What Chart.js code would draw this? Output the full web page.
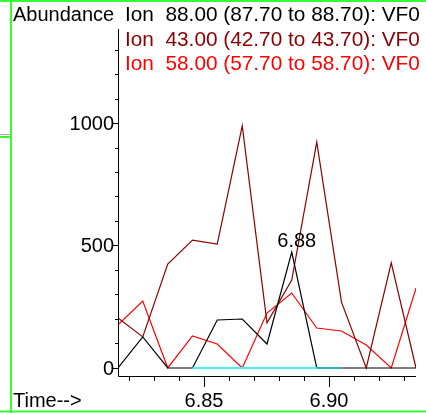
<!DOCTYPE html>
<html>
<head>
<meta charset="utf-8">
<script src="https://cdn.jsdelivr.net/npm/chart.js@4"></script>
<style>
html,body{margin:0;padding:0;background:#fff;}
#wrap{width:426px;height:413px;position:relative;}
canvas{display:block;}
</style>
</head>
<body>
<div id="wrap"><canvas id="c" width="426" height="413"></canvas></div>
<script>
// ---- data ----
const times = [6.8156, 6.8255, 6.8355, 6.8454, 6.8553, 6.8653, 6.8752, 6.8851, 6.8951, 6.9050, 6.9149, 6.9249, 6.9348];
const ion88 = [0, 127, 0, 0, 196, 200, 98, 473, 0, 0, 0, 0, 0];
const ion43 = [204, 127, 424, 522, 506, 988, 184, 359, 922, 269, 0, 429, 0];
const ion58 = [176, 273, 0, 131, 98, 0, 224, 306, 163, 151, 94, 0, 326];
const baselineTimes = [6.8454, 6.8951];
const baselineTailTimes = [6.8951, 6.9050];
const seriesLabels = [
  'Ion  88.00 (87.70 to 88.70): VF0',
  'Ion  43.00 (42.70 to 43.70): VF0',
  'Ion  58.00 (57.70 to 58.70): VF0'
];
const yMajorTicks = [0, 500, 1000];
const yMinorTicks = [0, 100, 200, 300, 400, 500, 600, 700, 800, 900, 1000, 1100, 1200, 1300];
const xMajorTicks = [6.85, 6.90];
const xMajorLabels = ['6.85', '6.90'];
const xMinorTicks = [6.82, 6.83, 6.84, 6.85, 6.86, 6.87, 6.88, 6.89, 6.90, 6.91, 6.92, 6.93];
const peakTime = 6.8851, peakValue = 473, peakLabel = '6.88';
const yTitle = 'Abundance';
const xTitle = 'Time-->';

const colors = ['#000000', '#8b0000', '#ff0000'];
const toPts = (xs, ys) => xs.map((t, i) => ({x: t, y: ys[i]}));

const FONT = '20px "Liberation Sans", Arial, sans-serif';
const LEGEND_FONT = '20.8px "Liberation Sans", Arial, sans-serif';

const decor = {
  id: 'decor',
  afterDraw(chart) {
    const ctx = chart.ctx;
    const xs = chart.scales.x, ys = chart.scales.y;
    const ca = chart.chartArea;
    ctx.save();
    // axes
    ctx.strokeStyle = '#000';
    ctx.lineWidth = 1;
    ctx.beginPath();
    ctx.moveTo(ca.left + 0.5, ca.top);
    ctx.lineTo(ca.left + 0.5, ca.bottom + 0.5);
    ctx.lineTo(ca.right, ca.bottom + 0.5);
    ctx.stroke();
    // y ticks
    ctx.beginPath();
    yMinorTicks.forEach(v => {
      const py = Math.round(ys.getPixelForValue(v)) + 0.5;
      const len = yMajorTicks.includes(v) ? 5 : 3;
      ctx.moveTo(ca.left - len, py);
      ctx.lineTo(ca.left, py);
    });
    // x ticks
    xMinorTicks.forEach(v => {
      const px = Math.round(xs.getPixelForValue(v)) + 0.5;
      const len = xMajorTicks.some(m => Math.abs(m - v) < 1e-6) ? 11 : 5;
      ctx.moveTo(px, ca.bottom);
      ctx.lineTo(px, ca.bottom + len);
    });
    ctx.stroke();
    // labels
    ctx.font = FONT;
    ctx.fillStyle = '#000';
    ctx.textBaseline = 'alphabetic';
    ctx.textAlign = 'right';
    yMajorTicks.forEach(v => {
      ctx.fillText(String(v), ca.left - 4, ys.getPixelForValue(v) + 7);
    });
    ctx.textAlign = 'center';
    xMajorTicks.forEach((v, i) => {
      ctx.fillText(xMajorLabels[i], xs.getPixelForValue(v), 407);
    });
    ctx.textAlign = 'left';
    ctx.fillText(xTitle, 13, 407);
    ctx.fillText(yTitle, 13, 21);
    // legend lines
    ctx.font = LEGEND_FONT;
    seriesLabels.forEach((s, i) => {
      ctx.fillStyle = colors[i];
      ctx.fillText(s, 125, 21 + i * 24.5);
    });
    // peak label
    ctx.font = FONT;
    ctx.fillStyle = '#000';
    ctx.textAlign = 'center';
    ctx.fillText(peakLabel, xs.getPixelForValue(peakTime) + 5, ys.getPixelForValue(peakValue) - 5);
    // frame
    ctx.strokeStyle = '#33ff33';
    ctx.lineWidth = 2;
    ctx.beginPath();
    ctx.moveTo(11, 0); ctx.lineTo(11, 413);
    ctx.moveTo(0, 1); ctx.lineTo(426, 1);
    ctx.moveTo(0, 411.5); ctx.lineTo(426, 411.5);
    ctx.moveTo(0, 137); ctx.lineTo(11, 137);
    ctx.stroke();
    ctx.strokeStyle = '#aaaaaa';
    ctx.lineWidth = 1;
    ctx.beginPath();
    ctx.moveTo(0, 134.5); ctx.lineTo(10, 134.5);
    ctx.stroke();
    ctx.restore();
  }
};

new Chart(document.getElementById('c'), {
  type: 'line',
  data: {
    datasets: [
      {data: toPts(baselineTimes, [0, 0]), borderColor: '#44f4f4', borderWidth: 2},
      {data: toPts(baselineTailTimes, [0, 0]), borderColor: '#22b8b8', borderWidth: 2},
      {data: toPts(times, ion88), borderColor: colors[0], borderWidth: 1.2},
      {data: toPts(times, ion43), borderColor: colors[1], borderWidth: 1.2},
      {data: toPts(times, ion58), borderColor: colors[2], borderWidth: 1.2}
    ]
  },
  options: {
    responsive: false,
    animation: false,
    devicePixelRatio: 1,
    elements: {point: {radius: 0}, line: {tension: 0, fill: false}},
    layout: {padding: {left: 118, right: 10, top: 29, bottom: 37}},
    plugins: {legend: {display: false}, tooltip: {enabled: false}},
    scales: {
      x: {type: 'linear', display: false, min: 6.8156, max: 6.9348},
      y: {type: 'linear', display: false, min: -32.7, max: 1383.7}
    }
  },
  plugins: [decor]
});
</script>
</body>
</html>
